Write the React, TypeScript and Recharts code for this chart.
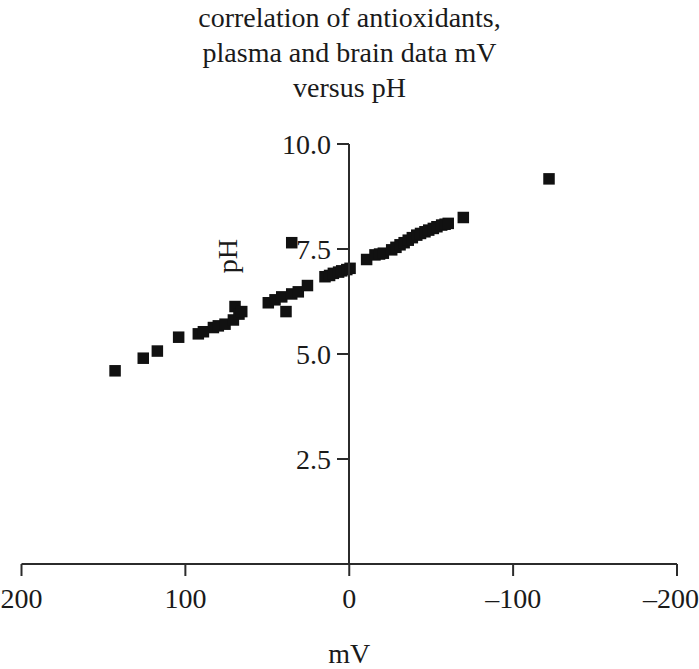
import React from 'react';
import { ScatterChart, Scatter, XAxis, YAxis } from 'recharts';

const titleLines = ['correlation of antioxidants,', 'plasma and brain data mV', 'versus pH'];
const xTicks = [200, 100, 0, -100, -200];
const yTicks = [2.5, 5, 7.5, 10];
const xLabel = 'mV';
const yLabel = 'pH';

const mV = [
  142.9, 125.7, 117.1, 104.1, 92.1, 89.0, 82.9, 79.9, 75.8, 70.7, 69.7, 67.3, 65.6,
  49.4, 45.3, 41.2, 38.6, 35.1, 31.1, 25.5, 35.1,
  14.8, 12.0, 9.7, 6.5, 4.6, 1.5, -0.5,
  -10.6, -15.7, -18.5, -20.8, -25.9, -28.5, -31.0, -33.5, -36.0, -38.5, -41.2,
  -43.5, -46.2, -48.5, -51.3, -53.5, -56.4, -58.5, -60.4, -69.6, -121.9,
];
const pH = [
  4.60, 4.90, 5.07, 5.40, 5.48, 5.53, 5.63, 5.67, 5.71, 5.81, 6.13, 5.95, 6.01,
  6.22, 6.29, 6.36, 6.01, 6.43, 6.48, 6.63, 7.65,
  6.84, 6.87, 6.92, 6.95, 6.98, 7.01, 7.04,
  7.25, 7.36, 7.38, 7.40, 7.48, 7.54, 7.60, 7.65, 7.71, 7.77, 7.83,
  7.87, 7.91, 7.95, 7.99, 8.03, 8.07, 8.09, 8.11, 8.25, 9.17,
];

const points = mV.map((x, i) => ({ x, y: pH[i] }));

const FONT = '"Liberation Serif", "Times New Roman", serif';
const AXIS = '#2b2b2b';
const TEXT = '#1a1a1a';
const FS = 28;
const MARK = 11.5;

const fmtX = (v: number) => (v < 0 ? '\u2013' + Math.abs(v) : String(v));
const fmtY = (v: number) => v.toFixed(1);

const SquareMark = (props: any) => {
  const { cx, cy } = props;
  if (cx == null || cy == null) return null;
  return <rect x={cx - MARK / 2} y={cy - MARK / 2} width={MARK} height={MARK} fill="#111" />;
};

const PHLabel = (props: any) => {
  const vb = props.viewBox || {};
  const cx = vb.x - 2;
  const cy = vb.y + 112;
  return (
    <text
      x={cx}
      y={cy}
      transform={`rotate(-90, ${cx}, ${cy})`}
      textAnchor="middle"
      dominantBaseline="central"
      fill={TEXT}
      fontSize={FS}
      fontFamily={FONT}
    >
      {yLabel}
    </text>
  );
};

export default function App() {
  return (
    <div style={{ position: 'absolute', left: 0, top: 0, width: 699, height: 669, background: '#fff' }}>
      <div
        style={{
          position: 'absolute',
          left: 0,
          top: 0,
          width: 699,
          textAlign: 'center',
          fontFamily: FONT,
          fontSize: FS,
          lineHeight: '35px',
          color: TEXT,
        }}
      >
        {titleLines.map((t) => (
          <div key={t}>{t}</div>
        ))}
      </div>
      <div style={{ position: 'absolute', left: 0, top: 0 }}>
        <ScatterChart width={699} height={669} margin={{ top: 144, right: 22, left: 21.5, bottom: 0 }}>
          <XAxis
            type="number"
            dataKey="x"
            domain={[-200, 200]}
            reversed
            ticks={xTicks}
            tickFormatter={fmtX}
            tickSize={12}
            tickMargin={12}
            height={105}
            axisLine={{ stroke: AXIS, strokeWidth: 2 }}
            tickLine={{ stroke: AXIS, strokeWidth: 2 }}
            tick={{ fill: TEXT, fontSize: FS, fontFamily: FONT }}
            allowDataOverflow
            label={{ value: xLabel, position: 'insideBottom', offset: 6, fill: TEXT, fontSize: FS, fontFamily: FONT }}
          />
          <YAxis type="number" dataKey="y" domain={[0, 10]} hide allowDataOverflow />
          <Scatter data={points} fill="#111" shape={<SquareMark />} isAnimationActive={false} />
        </ScatterChart>
      </div>
      <div style={{ position: 'absolute', left: 0, top: 0, pointerEvents: 'none' }}>
        <ScatterChart width={699} height={669} margin={{ top: 144, right: 22, left: 229, bottom: 105 }}>
          <XAxis type="number" dataKey="x" domain={[-200, 200]} hide allowDataOverflow />
          <YAxis
            type="number"
            dataKey="y"
            domain={[0, 10]}
            ticks={yTicks}
            tickFormatter={fmtY}
            width={120}
            tickSize={12}
            tickMargin={6}
            allowDataOverflow
            axisLine={{ stroke: AXIS, strokeWidth: 2 }}
            tickLine={{ stroke: AXIS, strokeWidth: 2 }}
            tick={{ fill: TEXT, fontSize: FS, fontFamily: FONT }}
            label={<PHLabel />}
          />
          <Scatter data={points} fill="none" stroke="none" isAnimationActive={false} />
        </ScatterChart>
      </div>
    </div>
  );
}
